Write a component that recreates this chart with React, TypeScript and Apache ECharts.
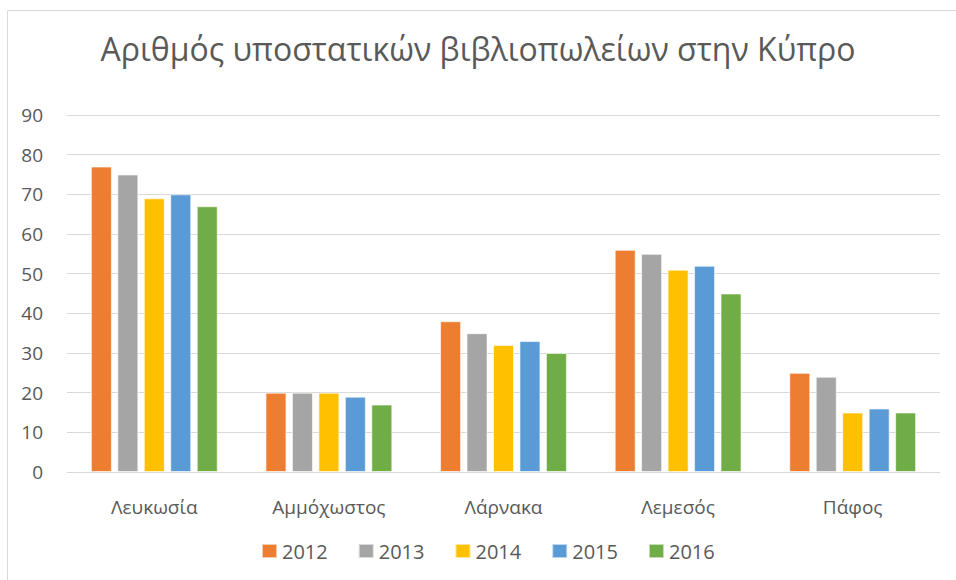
import React, { useEffect, useRef } from "react";
import * as echarts from "echarts";

const titleText = "Αριθμός υποστατικών βιβλιοπωλείων στην Κύπρο";
const categories = ["Λευκωσία", "Αμμόχωστος", "Λάρνακα", "Λεμεσός", "Πάφος"];
const years = ["2012", "2013", "2014", "2015", "2016"];
const colors = ["#ED7D31", "#A5A5A5", "#FFC000", "#5B9BD5", "#70AD47"];
const values2012 = [77, 20, 38, 56, 25];
const values2013 = [75, 20, 35, 55, 24];
const values2014 = [69, 20, 32, 51, 15];
const values2015 = [70, 19, 33, 52, 16];
const values2016 = [67, 17, 30, 45, 15];
const seriesValues = [values2012, values2013, values2014, values2015, values2016];

const textColor = "#595959";

export default function App() {
  const ref = useRef<HTMLDivElement>(null);
  useEffect(() => {
    document.body.style.margin = "0";
    const chart = echarts.init(ref.current!, null, { renderer: "svg" });
    chart.setOption({
      animation: false,
      backgroundColor: "#ffffff",
      title: {
        text: titleText,
        left: "center",
        top: 27,
        textStyle: {
          fontFamily: "Open Sans",
          fontSize: 32,
          fontWeight: "normal",
          color: textColor,
        },
      },
      graphic: [
        { type: "line", shape: { x1: 7.5, y1: 10.5, x2: 956, y2: 10.5 }, style: { stroke: "#d9d9d9", lineWidth: 1 } },
        { type: "line", shape: { x1: 7.5, y1: 10.5, x2: 7.5, y2: 580 }, style: { stroke: "#d9d9d9", lineWidth: 1 } },
      ],
      legend: {
        bottom: 14,
        left: 256,
        itemWidth: 15,
        itemHeight: 14,
        itemGap: 30,
        icon: "rect",
        data: years,
        textStyle: { fontFamily: "Open Sans", fontSize: 20, color: textColor },
      },
      grid: { left: 67, right: 16, top: 115, bottom: 108 },
      xAxis: {
        type: "category",
        data: categories,
        axisLine: { lineStyle: { color: "#d9d9d9", width: 1 } },
        axisTick: { show: false },
        axisLabel: { fontFamily: "Open Sans", fontSize: 19, color: textColor, margin: 25 },
      },
      yAxis: {
        type: "value",
        min: 0,
        max: 90,
        interval: 10,
        axisLine: { show: false },
        axisTick: { show: false },
        splitLine: { lineStyle: { color: "#d9d9d9", width: 1 } },
        axisLabel: { fontFamily: "Open Sans", fontSize: 19, color: textColor, margin: 24 },
      },
      series: years.map((y, i) => ({
        name: y,
        type: "bar",
        data: seriesValues[i],
        barWidth: 21,
        barGap: "26%",
        itemStyle: { color: colors[i], borderColor: "rgba(255,255,255,0.6)", borderWidth: 1 },
      })),
    });
    return () => chart.dispose();
  }, []);
  return <div ref={ref} style={{ width: 956, height: 580 }} />;
}
